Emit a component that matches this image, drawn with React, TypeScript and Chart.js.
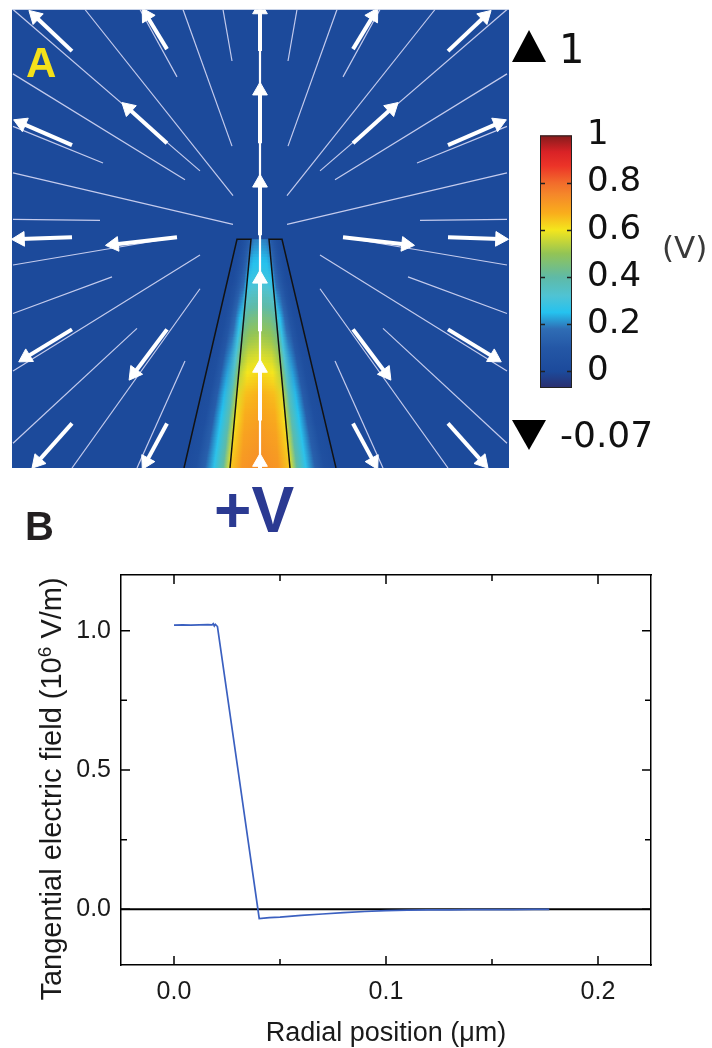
import React, { useEffect, useRef } from "react";
import { Chart, registerables } from "chart.js";

Chart.register(...registerables);

// ---------------- Panel A : potential map around the nanopipette tip ----------------
// field coordinates (x: lateral, 0 = pipette axis; y: height above bottom edge)
const fieldXRange = [-248, 249];
const fieldYRange = [0, 463];
const fieldBackgroundValue = 0.0;

// pipette walls, polygon order: outer-bottom, inner-bottom, inner-top, outer-top
const leftWallX = [-76, -30, -9, -23];
const rightWallX = [76, 30, 9, 22];
const wallY = [0, 0, 231, 231];
const tipTop = 231;

// potential inside the channel along the height
const channelHeights = [0, 40, 75, 105, 145, 190, 231];
const channelPotential = [0.74, 0.71, 0.67, 0.6, 0.48, 0.3, 0.2];
// horizontal profile inside the channel (fraction of width / ratio of centre potential)
const channelAcross = [0, 0.2, 0.5, 0.8, 1];
const channelAcrossRatio = [0.86, 0.97, 1, 0.97, 0.86];
// profile across the glass wall (0 = inner edge, 1 = outer edge)
const wallDepth = [0, 0.15, 0.35, 0.55, 0.75, 1];
const wallPotentialRatio = [0.8, 0.55, 0.36, 0.18, 0.06, 0.02];

// thin field lines [x1, y1, x2, y2]
const fieldLines: number[][] = [
  [-247, 463, -60, 300],
  [-175, 463, -27, 275],
  [-120, 463, -83, 395],
  [-77, 463, -28, 325],
  [-37, 463, -28, 411],
  [-247, 398, -75, 291],
  [-247, 345, -157, 308],
  [-247, 298, -27, 246],
  [-247, 251, -160, 250],
  [-247, 205, -83, 233],
  [-247, 156, -148, 193],
  [-247, 98, -60, 215],
  [-247, 25, -123, 141],
  [-188, 0, -60, 181],
  [-123, 0, -75, 108],
  [247, 463, 60, 300],
  [175, 463, 27, 275],
  [120, 463, 83, 395],
  [77, 463, 28, 325],
  [37, 463, 28, 411],
  [247, 398, 75, 291],
  [247, 345, 157, 308],
  [247, 298, 27, 246],
  [247, 251, 160, 250],
  [247, 205, 83, 233],
  [247, 156, 148, 193],
  [247, 98, 60, 215],
  [247, 25, 123, 141],
  [188, 0, 60, 181],
  [123, 0, 75, 108],
];
const axisLine: number[] = [0, 0, 0, 463];

// field arrows [tailX, tailY, headX, headY]
const fieldArrows: number[][] = [
  [-188, 421, -230, 461],
  [-93, 423, -117, 463],
  [-93, 328, -137, 368],
  [-188, 326, -245, 351],
  [-188, 233, -247, 231],
  [-83, 233, -153, 225],
  [-188, 140, -240, 108],
  [-93, 140, -130, 90],
  [-188, 45, -227, 1],
  [-93, 45, -117, 0],
  [188, 421, 230, 461],
  [93, 423, 117, 463],
  [93, 328, 137, 368],
  [188, 326, 245, 351],
  [188, 233, 247, 231],
  [83, 233, 153, 225],
  [188, 140, 240, 108],
  [93, 140, 130, 90],
  [188, 45, 227, 1],
  [93, 45, 117, 0],
  [0, 421, 0, 470],
  [0, 328, 0, 388],
  [0, 235, 0, 295],
  [0, 138, 0, 198],
  [0, 48, 0, 108],
  [0, -20, 0, 13],
];

// colour scale (V)
const colormapValues = [-0.07, 0, 0.1, 0.18, 0.25, 0.32, 0.4, 0.5, 0.6, 0.67, 0.75, 0.8, 0.87, 0.93, 1];
const colormapColors = [
  "#2a2e6e", "#1c4a9b", "#2457a6", "#2f6db5", "#25c2ef", "#4fc3d4", "#5fbaa6",
  "#93c455", "#f4e61d", "#f9ae1c", "#f5872a", "#f26b2b", "#ec3428", "#d92226", "#851b1c",
];
const colorbarRange = [-0.07, 1];
const colorbarTicks = [0, 0.2, 0.4, 0.6, 0.8, 1];

// ---------------- Panel B : tangential electric field ----------------
const radialPosition = [
  0, 0.004, 0.008, 0.012, 0.016, 0.018, 0.0185, 0.019, 0.0195, 0.0205, 0.025, 0.03, 0.035,
  0.0402, 0.045, 0.05, 0.06, 0.07, 0.08, 0.09, 0.1, 0.11, 0.12, 0.13, 0.14, 0.15, 0.16, 0.17, 0.177,
];
const tangentialField = [
  1.02, 1.021, 1.02, 1.021, 1.022, 1.021, 1.025, 1.017, 1.023, 1.015, 0.776, 0.51, 0.244,
  -0.033, -0.03, -0.028, -0.022, -0.017, -0.012, -0.008, -0.005, -0.003, -0.002, -0.002, -0.001,
  -0.001, -0.001, 0, 0,
];
const xRangeB = [-0.025, 0.225];
const yRangeB = [-0.2, 1.2];
const xTicksB = [0, 0.05, 0.1, 0.15, 0.2];
const yTicksB = [0, 0.25, 0.5, 0.75, 1];
const xTickLabelsB = ["0.0", "", "0.1", "", "0.2"];
const yTickLabelsB = ["0.0", "", "0.5", "", "1.0"];

const SANS = "'Liberation Sans', Arial, Helvetica, sans-serif";
const DEJAVU = "'DejaVu Sans', Verdana, sans-serif";

function hexToRgb(h: string) {
  const n = parseInt(h.slice(1), 16);
  return [(n >> 16) & 255, (n >> 8) & 255, n & 255];
}
function interp(xs: number[], ys: number[], v: number) {
  if (v <= xs[0]) return ys[0];
  if (v >= xs[xs.length - 1]) return ys[ys.length - 1];
  let i = 0;
  while (v > xs[i + 1]) i++;
  const t = (v - xs[i]) / (xs[i + 1] - xs[i]);
  return ys[i] + (ys[i + 1] - ys[i]) * t;
}
function colorAt(v: number) {
  const vs = colormapValues;
  if (v <= vs[0]) return colormapColors[0];
  if (v >= vs[vs.length - 1]) return colormapColors[vs.length - 1];
  let i = 0;
  while (v > vs[i + 1]) i++;
  const t = (v - vs[i]) / (vs[i + 1] - vs[i]);
  const a = hexToRgb(colormapColors[i]);
  const b = hexToRgb(colormapColors[i + 1]);
  const c = a.map((av, k) => Math.round(av + (b[k] - av) * t));
  return `rgb(${c[0]},${c[1]},${c[2]})`;
}
const lerp = (a: number, b: number, t: number) => a + (b - a) * t;

const heatPlugin = {
  id: "heat",
  beforeDatasetsDraw(chart: any) {
    const { ctx, chartArea: ca, scales } = chart;
    const px = (v: number) => scales.x.getPixelForValue(v);
    const py = (v: number) => scales.y.getPixelForValue(v);
    ctx.save();
    ctx.beginPath();
    ctx.rect(ca.left, ca.top, ca.right - ca.left, ca.bottom - ca.top);
    ctx.clip();
    ctx.fillStyle = colorAt(fieldBackgroundValue);
    ctx.fillRect(ca.left, ca.top, ca.right - ca.left, ca.bottom - ca.top);
    const N = 80;
    [leftWallX, rightWallX].forEach((wx) => {
      ctx.save();
      ctx.beginPath();
      wx.forEach((xv, i) => (i ? ctx.lineTo(px(xv), py(wallY[i])) : ctx.moveTo(px(xv), py(wallY[i]))));
      ctx.closePath();
      ctx.clip();
      for (let k = 0; k < N; k++) {
        const h0 = (tipTop * k) / N;
        const h1 = (tipTop * (k + 1)) / N;
        const f = (h0 + h1) / 2 / tipTop;
        const inner = lerp(wx[1], wx[2], f);
        const outer = lerp(wx[0], wx[3], f);
        const vc = interp(channelHeights, channelPotential, (h0 + h1) / 2);
        const g = ctx.createLinearGradient(px(inner), 0, px(outer), 0);
        wallDepth.forEach((d, j) => g.addColorStop(d, colorAt(vc * wallPotentialRatio[j])));
        ctx.fillStyle = g;
        ctx.fillRect(ca.left, py(h1) - 0.5, ca.right - ca.left, py(h0) - py(h1) + 1);
      }
      ctx.restore();
    });
    ctx.save();
    ctx.beginPath();
    ctx.moveTo(px(leftWallX[1]), py(wallY[1]));
    ctx.lineTo(px(rightWallX[1]), py(wallY[1]));
    ctx.lineTo(px(rightWallX[2]), py(wallY[2]));
    ctx.lineTo(px(leftWallX[2]), py(wallY[2]));
    ctx.closePath();
    ctx.clip();
    for (let k = 0; k < N; k++) {
      const h0 = (tipTop * k) / N;
      const h1 = (tipTop * (k + 1)) / N;
      const f = (h0 + h1) / 2 / tipTop;
      const l = lerp(leftWallX[1], leftWallX[2], f);
      const r = lerp(rightWallX[1], rightWallX[2], f);
      const vc = interp(channelHeights, channelPotential, (h0 + h1) / 2);
      const g = ctx.createLinearGradient(px(l), 0, px(r), 0);
      channelAcross.forEach((d, j) => g.addColorStop(d, colorAt(vc * channelAcrossRatio[j])));
      ctx.fillStyle = g;
      ctx.fillRect(ca.left, py(h1) - 0.5, ca.right - ca.left, py(h0) - py(h1) + 1);
    }
    ctx.restore();
    ctx.restore();
  },
};

const colorbarPlugin = {
  id: "colorbar",
  beforeDatasetsDraw(chart: any) {
    const { ctx, chartArea: ca, scales } = chart;
    const y = scales.y;
    const bottom = y.getPixelForValue(colorbarRange[0]);
    const top = y.getPixelForValue(colorbarRange[1]);
    const g = ctx.createLinearGradient(0, bottom, 0, top);
    colormapValues.forEach((v, i) =>
      g.addColorStop((v - colorbarRange[0]) / (colorbarRange[1] - colorbarRange[0]), colormapColors[i])
    );
    ctx.save();
    ctx.fillStyle = g;
    ctx.fillRect(ca.left, top, ca.right - ca.left, bottom - top);
    ctx.strokeStyle = "#222";
    ctx.lineWidth = 1;
    ctx.strokeRect(ca.left + 0.5, top + 0.5, ca.right - ca.left - 1, bottom - top - 1);
    ctx.lineWidth = 1.3;
    colorbarTicks.slice(0, -1).forEach((v) => {
      const p = Math.round(y.getPixelForValue(v)) + 0.5;
      ctx.beginPath();
      ctx.moveTo(ca.left, p);
      ctx.lineTo(ca.left + 5, p);
      ctx.moveTo(ca.right - 5, p);
      ctx.lineTo(ca.right, p);
      ctx.stroke();
    });
    ctx.restore();
  },
};

const innerTicksPlugin = {
  id: "innerTicks",
  afterDraw(chart: any) {
    const { ctx, chartArea: ca, scales } = chart;
    ctx.save();
    ctx.strokeStyle = "#000";
    ctx.lineWidth = 1.5;
    scales.x.ticks.forEach((t: any, i: number) => {
      const p = scales.x.getPixelForValue(t.value);
      const len = xTickLabelsB[i] ? 9 : 6;
      ctx.beginPath();
      ctx.moveTo(p, ca.bottom);
      ctx.lineTo(p, ca.bottom - len);
      ctx.moveTo(p, ca.top);
      ctx.lineTo(p, ca.top + len);
      ctx.stroke();
    });
    scales.y.ticks.forEach((t: any, i: number) => {
      const p = scales.y.getPixelForValue(t.value);
      const len = yTickLabelsB[i] ? 9 : 6;
      ctx.beginPath();
      ctx.moveTo(ca.left, p);
      ctx.lineTo(ca.left + len, p);
      ctx.moveTo(ca.right, p);
      ctx.lineTo(ca.right - len, p);
      ctx.stroke();
    });
    ctx.restore();
  },
};

function buildFieldDatasets() {
  const ds: any[] = [];
  fieldArrows.forEach(([x0, y0, x1, y1]) => {
    const dx = x1 - x0;
    const dy = y1 - y0;
    const L = Math.hypot(dx, dy);
    const hx = x1 - (dx / L) * 7;
    const hy = y1 - (dy / L) * 7;
    const rot = (Math.atan2(dx, dy) * 180) / Math.PI;
    ds.push({
      data: [
        { x: x0, y: y0 },
        { x: hx, y: hy },
      ],
      showLine: true,
      borderColor: "#ffffff",
      borderWidth: 4,
      pointStyle: "triangle",
      pointRadius: [0, 8.5],
      pointRotation: [0, rot],
      pointBackgroundColor: "#ffffff",
      pointBorderColor: "#ffffff",
      pointBorderWidth: 1,
      order: 0,
    });
  });
  ds.push({
    data: [
      { x: axisLine[0], y: axisLine[1] },
      { x: axisLine[2], y: axisLine[3] },
    ],
    showLine: true,
    borderColor: "#ffffff",
    borderWidth: 2.2,
    pointRadius: 0,
    order: 1,
  });
  fieldLines.forEach(([x0, y0, x1, y1]) => {
    ds.push({
      data: [
        { x: x0, y: y0 },
        { x: x1, y: y1 },
      ],
      showLine: true,
      borderColor: "rgba(226,226,252,0.85)",
      borderWidth: 1.2,
      pointRadius: 0,
      order: 2,
    });
  });
  [leftWallX, rightWallX].forEach((wx) => {
    const order = [0, 3, 2, 1];
    ds.push({
      data: order.map((i) => ({ x: wx[i], y: wallY[i] })),
      showLine: true,
      borderColor: "#121212",
      borderWidth: 1.5,
      pointRadius: 0,
      order: 3,
    });
  });
  return ds;
}

export default function App() {
  const aRef = useRef<HTMLCanvasElement>(null);
  const cRef = useRef<HTMLCanvasElement>(null);
  const bRef = useRef<HTMLCanvasElement>(null);

  useEffect(() => {
    const charts: Chart[] = [];
    const noPlugins = { legend: { display: false }, tooltip: { enabled: false } };

    charts.push(
      new Chart(aRef.current as HTMLCanvasElement, {
        type: "scatter",
        data: { datasets: buildFieldDatasets() },
        options: {
          animation: false,
          responsive: false,
          events: [],
          layout: { padding: { left: 12, right: 11, top: 5, bottom: 12 } },
          plugins: noPlugins as any,
          scales: {
            x: { type: "linear", display: false, min: fieldXRange[0], max: fieldXRange[1] },
            y: { type: "linear", display: false, min: fieldYRange[0], max: fieldYRange[1] },
          },
        },
        plugins: [heatPlugin],
      } as any)
    );

    charts.push(
      new Chart(cRef.current as HTMLCanvasElement, {
        type: "scatter",
        data: { datasets: [] },
        options: {
          animation: false,
          responsive: false,
          events: [],
          layout: { padding: { left: 10, right: 0, top: 30, bottom: 42 } },
          plugins: noPlugins as any,
          scales: {
            x: { type: "linear", display: false, min: 0, max: 1 },
            y: {
              type: "linear",
              position: "right",
              min: colorbarRange[0],
              max: colorbarRange[1],
              afterFit: (s: any) => {
                s.width = 140;
              },
              afterBuildTicks: (s: any) => {
                s.ticks = colorbarTicks.map((value) => ({ value }));
              },
              grid: { display: false, drawTicks: false },
              border: { display: false },
              ticks: {
                autoSkip: false,
                padding: 15,
                color: "#111",
                font: { family: DEJAVU, size: 34 },
                callback: (v: any) => String(Number(Number(v).toFixed(2))),
              },
            },
          },
        },
        plugins: [colorbarPlugin],
      } as any)
    );

    charts.push(
      new Chart(bRef.current as HTMLCanvasElement, {
        type: "scatter",
        data: {
          datasets: [
            {
              data: radialPosition.map((x, i) => ({ x, y: tangentialField[i] })),
              showLine: true,
              borderColor: "#3b60c0",
              borderWidth: 1.7,
              pointRadius: 0,
              order: 0,
            },
            {
              data: [
                { x: xRangeB[0], y: 0 },
                { x: xRangeB[1], y: 0 },
              ],
              showLine: true,
              borderColor: "#000",
              borderWidth: 2,
              pointRadius: 0,
              order: 1,
            },
          ],
        },
        options: {
          animation: false,
          responsive: false,
          events: [],
          layout: { padding: { left: 0, right: 61, top: 95, bottom: 0 } },
          plugins: noPlugins as any,
          scales: {
            x: {
              type: "linear",
              position: "bottom",
              min: xRangeB[0],
              max: xRangeB[1],
              afterFit: (s: any) => {
                s.height = 83;
              },
              afterBuildTicks: (s: any) => {
                s.ticks = xTicksB.map((value) => ({ value }));
              },
              grid: { display: false, drawTicks: false },
              border: { display: true, color: "#000", width: 1.5 },
              ticks: {
                autoSkip: false,
                maxRotation: 0,
                padding: 12,
                color: "#1a1a1a",
                font: { family: SANS, size: 25 },
                callback: (_v: any, i: number) => xTickLabelsB[i],
              },
            },
            y: {
              type: "linear",
              position: "left",
              min: yRangeB[0],
              max: yRangeB[1],
              afterFit: (s: any) => {
                s.width = 121;
              },
              afterBuildTicks: (s: any) => {
                s.ticks = yTicksB.map((value) => ({ value }));
              },
              grid: { display: false, drawTicks: false },
              border: { display: true, color: "#000", width: 1.5 },
              ticks: {
                autoSkip: false,
                padding: 10,
                color: "#1a1a1a",
                font: { family: SANS, size: 25 },
                callback: (_v: any, i: number) => yTickLabelsB[i],
              },
            },
            x2: {
              type: "linear",
              position: "top",
              min: xRangeB[0],
              max: xRangeB[1],
              afterFit: (s: any) => {
                s.height = 0;
              },
              grid: { display: false, drawTicks: false },
              border: { display: true, color: "#000", width: 1.5 },
              ticks: { display: false },
            },
            y2: {
              type: "linear",
              position: "right",
              min: yRangeB[0],
              max: yRangeB[1],
              afterFit: (s: any) => {
                s.width = 0;
              },
              grid: { display: false, drawTicks: false },
              border: { display: true, color: "#000", width: 1.5 },
              ticks: { display: false },
            },
          },
        },
        plugins: [innerTicksPlugin],
      } as any)
    );

    return () => charts.forEach((c) => c.destroy());
  }, []);

  const abs = (s: React.CSSProperties): React.CSSProperties => ({ position: "absolute", lineHeight: 1, whiteSpace: "nowrap", ...s });

  return (
    <div style={{ position: "absolute", left: 0, top: 0, width: 712, height: 1048, background: "#fff", overflow: "hidden" }}>
      <canvas ref={aRef} width={520} height={480} style={{ position: "absolute", left: 0, top: 0, width: 520, height: 480 }} />
      <canvas ref={cRef} width={182} height={330} style={{ position: "absolute", left: 530, top: 100, width: 182, height: 330 }} />
      <canvas ref={bRef} width={712} height={568} style={{ position: "absolute", left: 0, top: 480, width: 712, height: 568 }} />

      <div style={abs({ left: 26, top: 42, fontFamily: SANS, fontWeight: 700, fontSize: 42, color: "#f4e11a" })}>A</div>
      <div style={abs({ left: 214, top: 478, fontFamily: SANS, fontWeight: 700, fontSize: 64, color: "#2b3a92" })}>+V</div>
      <div style={abs({ left: 25, top: 506, fontFamily: SANS, fontWeight: 700, fontSize: 40, color: "#231f20" })}>B</div>

      <div style={{ position: "absolute", left: 512, top: 30, width: 0, height: 0, borderLeft: "17px solid transparent", borderRight: "17px solid transparent", borderBottom: "32px solid #000" }} />
      <div style={abs({ left: 559, top: 29, fontFamily: DEJAVU, fontSize: 40, color: "#111" })}>1</div>
      <div style={{ position: "absolute", left: 512, top: 420, width: 0, height: 0, borderLeft: "17px solid transparent", borderRight: "17px solid transparent", borderTop: "30px solid #000" }} />
      <div style={abs({ left: 560, top: 417, fontFamily: DEJAVU, fontSize: 36, color: "#111" })}>-0.07</div>
      <div style={abs({ left: 662, top: 232, fontFamily: DEJAVU, fontSize: 31, color: "#3a3a3a" })}>(V)</div>

      <div style={abs({ left: 386, top: 1019, transform: "translateX(-50%)", fontFamily: SANS, fontSize: 27, color: "#1a1a1a" })}>
        Radial position (μm)
      </div>
      <div
        style={abs({
          left: 51,
          top: 789,
          transform: "translate(-50%, -50%) rotate(-90deg)",
          fontFamily: SANS,
          fontSize: 29,
          color: "#1a1a1a",
        })}
      >
        Tangential electric field (10<span style={{ fontSize: 19, position: "relative", top: -10 }}>6</span> V/m)
      </div>
    </div>
  );
}
